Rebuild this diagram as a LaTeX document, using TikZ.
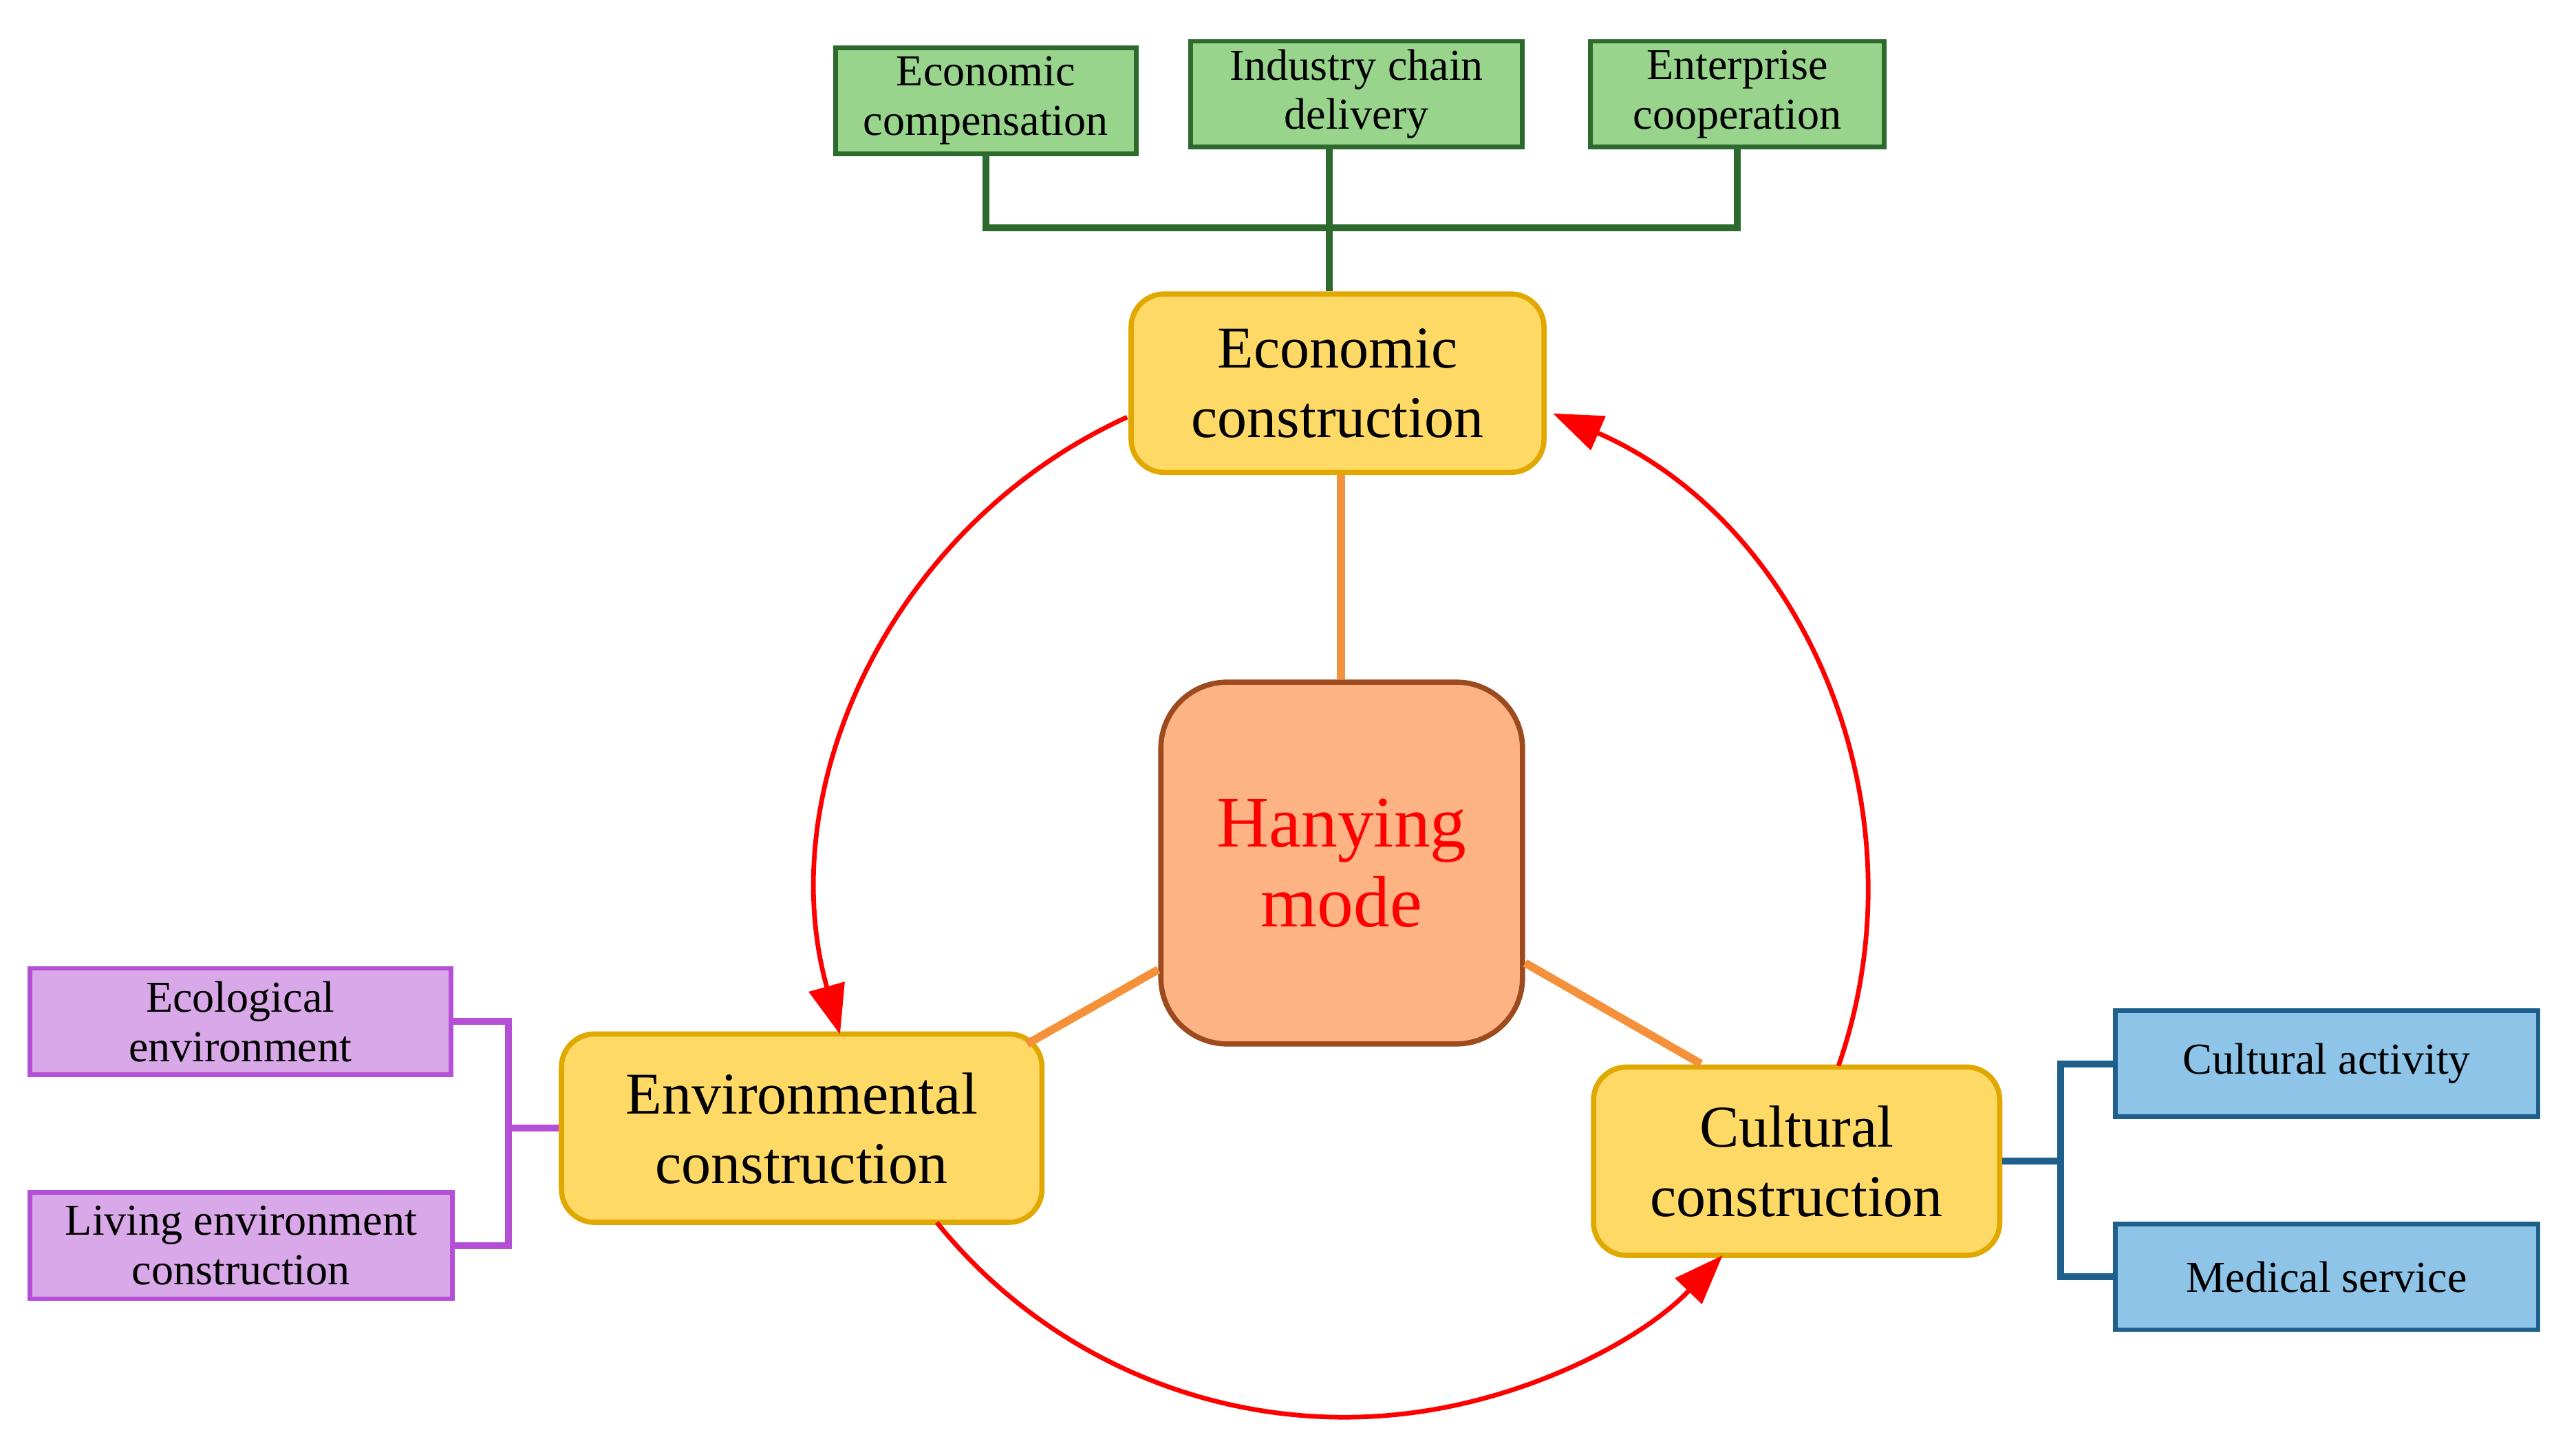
\documentclass[tikz,border=0pt]{standalone}
\usepackage{fontspec}
\setmainfont{Liberation Serif}
\usetikzlibrary{arrows.meta}
\definecolor{gfill}{HTML}{98D48C}\definecolor{gdraw}{HTML}{2D6A2D}
\definecolor{yfill}{HTML}{FFD966}\definecolor{ydraw}{HTML}{E0A800}
\definecolor{ofill}{HTML}{FDB383}\definecolor{odraw}{HTML}{9C4A1E}
\definecolor{pfill}{HTML}{D9A8E8}\definecolor{pdraw}{HTML}{B44FD6}
\definecolor{bfill}{HTML}{8DC4E8}\definecolor{bdraw}{HTML}{1F5F8B}
\definecolor{oline}{HTML}{F4913A}
\tikzset{
 box/.style={draw,line width=0.8pt,minimum width=#1,inner sep=0pt,align=center,font=\fontsize{7.6}{8.5}\selectfont},
 gbox/.style={box=#1,fill=gfill,draw=gdraw,minimum height=0.64cm},
 pbox/.style={box=#1,fill=pfill,draw=pdraw,minimum height=0.645cm},
 bbox/.style={box=#1,fill=bfill,draw=bdraw,minimum height=0.64cm},
 ybox/.style={draw=ydraw,fill=yfill,line width=0.9pt,rounded corners=0.2cm,align=center,inner sep=0pt,font=\fontsize{10.2}{12}\selectfont},
 red arc/.style={red,line width=0.8pt,-{Triangle[length=0.3cm,width=0.22cm]}},
}
\begin{document}
\begin{tikzpicture}[x=1cm,y=1cm]
\useasboundingbox (0,0) rectangle (15.6,8.75);
% green
\node[gbox=1.82cm] (g1) at (5.97,8.14) {Economic\\compensation};
\node[gbox=2.01cm] (g2) at (8.215,8.18) {Industry chain\\delivery};
\node[gbox=1.78cm] (g3) at (10.52,8.18) {Enterprise\\cooperation};
% main
\node[ybox,minimum width=2.5cm,minimum height=1.08cm] (ec) at (8.10,6.43) {Economic\\construction};
\node[draw=odraw,fill=ofill,line width=0.9pt,rounded corners=0.4cm,minimum width=2.19cm,minimum height=2.19cm,align=center,font=\fontsize{12.5}{13.7}\selectfont,text=red] (h) at (8.125,3.525) {Hanying\\mode};
\node[ybox,minimum width=2.91cm,minimum height=1.14cm] (env) at (4.855,1.92) {Environmental\\construction};
\node[ybox,minimum width=2.46cm,minimum height=1.14cm] (cul) at (10.88,1.72) {Cultural\\construction};
% purple
\node[pbox=2.55cm] (p1) at (1.455,2.565) {Ecological\\environment};
\node[pbox=2.56cm] (p2) at (1.46,1.21) {Living environment\\construction};
% blue
\node[bbox=2.56cm] (b1) at (14.09,2.31) {Cultural activity};
\node[bbox=2.56cm] (b2) at (14.09,1.02) {Medical service};
% green connectors
\coordinate (gj) at (8.05,7.37);
\draw[gdraw,line width=1.2pt] (g1.south) -- (g1.south |- gj) -- (g3.south |- gj) -- (g3.south);
\draw[gdraw,line width=1.2pt] (g2.south -| gj) -- (ec.north -| gj);
% purple
\coordinate (pj) at (3.08,0);
\draw[pdraw,line width=1.2pt] (p1.east) -- (p1.east -| pj) -- (p2.east -| pj) -- (p2.east);
\draw[pdraw,line width=1.2pt] (env.west) -- (env.west -| pj);
% blue
\coordinate (bj) at (12.48,0);
\draw[bdraw,line width=1.2pt] (b1.west) -- (b1.west -| bj) -- (b2.west -| bj) -- (b2.west);
\draw[bdraw,line width=1.2pt] (cul.east) -- (cul.east -| bj);
% orange
\coordinate (oj) at (8.12,0);
\draw[oline,line width=1.4pt] (ec.south -| oj) -- (h.north -| oj);
\draw[oline,line width=1.4pt] (h.west |- 0,2.88) -- (6.22,2.43);
\draw[oline,line width=1.4pt] (h.east |- 0,2.92) -- (10.30,2.31);
% red circle arcs
\coordinate (c) at (8.14,3.34);
\draw[red arc] ([shift={(114.5:3.17)}]c) arc (114.5:195.6:3.17);
\draw[red arc] ([shift={(218.9:3.17)}]c) arc (218.9:316.3:3.17);
\draw[red arc] ([shift={(-19.2:3.17)}]c) arc (-19.2:66.5:3.17);
\end{tikzpicture}
\end{document}
